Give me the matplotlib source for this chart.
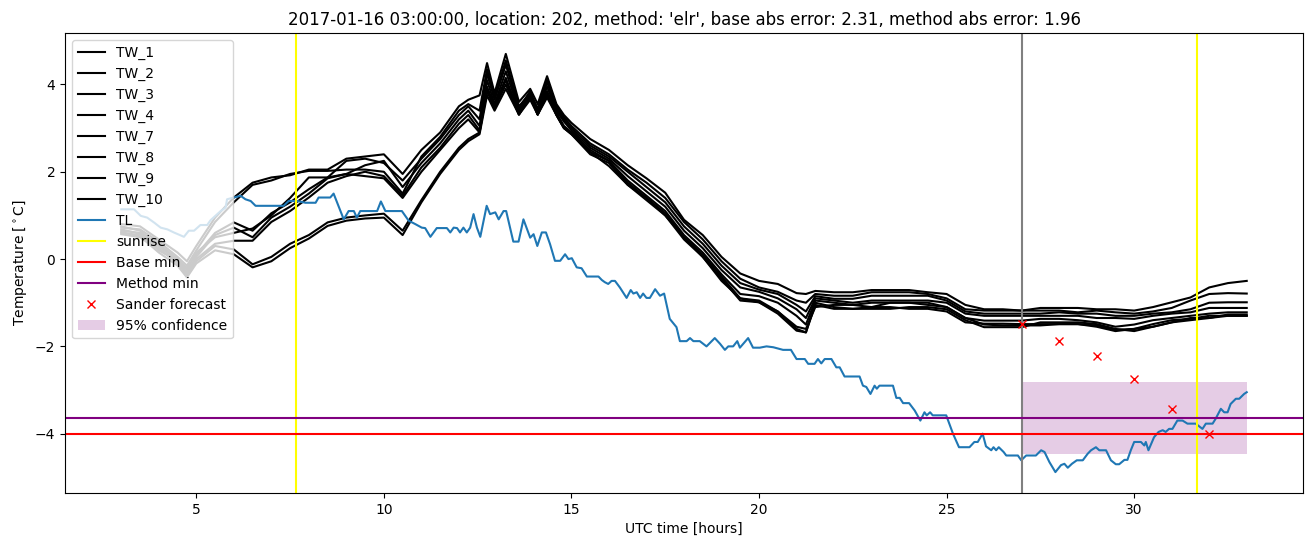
import matplotlib
matplotlib.use("Agg")
import matplotlib.pyplot as plt
import numpy as np

title = "2017-01-16 03:00:00, location: 202, method: 'elr', base abs error: 2.31, method abs error: 1.96"

tw_names = ["TW_1", "TW_2", "TW_3", "TW_4", "TW_7", "TW_8", "TW_9", "TW_10"]

tw_hours = [3.0, 3.5, 4.0, 4.5, 4.75, 5.0, 5.5, 6.0, 6.5, 7.0, 7.5, 8.0, 8.5, 9.0, 9.5, 10.0, 10.5,
            11.0, 11.5, 12.0, 12.25, 12.55, 12.75, 12.95, 13.25, 13.6, 13.9, 14.1, 14.35, 14.6,
            14.8, 15.0, 15.5, 16.0, 16.5, 17.0, 17.5, 18.0, 18.5, 19.0, 19.5, 20.0, 20.5, 21.0,
            21.25, 21.5, 22.0, 22.5, 23.0, 23.5, 24.0, 24.5, 25.0, 25.5, 26.0, 26.5, 27.0, 27.5,
            28.0, 28.5, 29.0, 29.5, 30.0, 30.5, 31.0, 31.5, 32.0, 32.5, 33.0]

tw_1 = [0.80, 0.75, 0.45, 0.15, -0.05, 0.30, 0.95, 1.41, 1.75, 1.87, 1.92, 2.05, 2.05, 2.30, 2.35,
        2.40, 1.95, 2.50, 2.90, 3.50, 3.65, 3.75, 4.49, 3.80, 4.70, 3.60, 3.90, 3.55, 4.19, 3.55,
        3.30, 3.12, 2.75, 2.50, 2.15, 1.85, 1.52, 0.90, 0.55, 0.05, -0.33, -0.50, -0.57, -0.78,
        -0.80, -0.73, -0.76, -0.76, -0.71, -0.71, -0.71, -0.76, -0.80, -1.05, -1.15, -1.15, -1.18,
        -1.12, -1.12, -1.12, -1.15, -1.15, -1.18, -1.10, -0.99, -0.88, -0.65, -0.55, -0.50]
tw_2 = [0.72, 0.68, 0.40, 0.05, -0.15, 0.20, 0.85, 1.30, 1.70, 1.80, 1.95, 2.02, 2.02, 2.05, 2.05,
        2.00, 1.50, 2.35, 2.80, 3.40, 3.55, 3.40, 4.35, 3.70, 4.55, 3.50, 3.80, 3.45, 4.10, 3.50,
        3.25, 3.05, 2.65, 2.40, 2.05, 1.75, 1.40, 0.85, 0.45, -0.05, -0.45, -0.65, -0.75, -0.95,
        -1.00, -0.80, -0.84, -0.84, -0.76, -0.76, -0.76, -0.80, -0.90, -1.15, -1.18, -1.18, -1.18,
        -1.18, -1.18, -1.22, -1.18, -1.22, -1.25, -1.20, -1.12, -0.95, -0.80, -0.78, -0.79]
tw_3 = [0.65, 0.60, 0.35, 0.00, -0.20, 0.10, 0.60, 0.84, 0.65, 1.05, 1.30, 1.60, 1.87, 2.25, 2.30,
        2.20, 1.80, 2.30, 2.75, 3.30, 3.50, 3.20, 4.25, 3.65, 4.45, 3.45, 3.85, 3.40, 4.05, 3.45,
        3.20, 3.00, 2.60, 2.35, 2.00, 1.65, 1.30, 0.75, 0.35, -0.15, -0.55, -0.70, -0.80, -1.05,
        -1.20, -0.85, -0.91, -0.91, -0.84, -0.84, -0.84, -0.84, -0.95, -1.20, -1.25, -1.25, -1.25,
        -1.25, -1.22, -1.25, -1.25, -1.30, -1.30, -1.25, -1.22, -1.15, -1.00, -0.99, -0.99]
tw_4 = [0.60, 0.55, 0.30, -0.05, -0.30, 0.05, 0.55, 0.72, 0.50, 0.95, 1.20, 1.50, 1.85, 1.95, 2.15,
        2.25, 1.65, 2.20, 2.65, 3.20, 3.40, 3.05, 4.10, 3.55, 4.30, 3.40, 3.80, 3.35, 3.95, 3.40,
        3.15, 2.95, 2.55, 2.30, 1.90, 1.55, 1.20, 0.65, 0.25, -0.25, -0.65, -0.75, -0.90, -1.15,
        -1.35, -0.90, -0.95, -1.00, -0.95, -0.95, -0.95, -0.95, -1.00, -1.25, -1.30, -1.30, -1.30,
        -1.30, -1.30, -1.30, -1.35, -1.35, -1.37, -1.30, -1.25, -1.22, -1.12, -1.12, -1.12]
tw_7 = [0.57, 0.50, 0.25, -0.10, -0.35, 0.00, 0.35, 0.42, 0.42, 0.85, 1.10, 1.41, 1.75, 1.90, 2.00,
        1.90, 1.45, 2.10, 2.55, 3.10, 3.30, 2.95, 3.95, 3.50, 4.15, 3.35, 3.75, 3.31, 3.85, 3.35,
        3.05, 2.90, 2.45, 2.25, 1.80, 1.45, 1.10, 0.55, 0.15, -0.35, -0.80, -0.85, -1.00, -1.30,
        -1.50, -0.95, -1.00, -1.05, -1.00, -1.00, -1.00, -1.05, -1.10, -1.35, -1.41, -1.41, -1.41,
        -1.37, -1.37, -1.40, -1.45, -1.55, -1.50, -1.40, -1.35, -1.30, -1.25, -1.22, -1.22]
tw_8 = [0.75, 0.65, 0.30, 0.00, -0.25, 0.15, 0.50, 0.60, 0.70, 1.00, 1.40, 1.87, 1.87, 1.95, 1.90,
        1.85, 1.40, 2.00, 2.50, 3.00, 3.20, 2.90, 3.90, 3.47, 4.10, 3.31, 3.77, 3.31, 3.80, 3.30,
        3.00, 2.86, 2.40, 2.20, 1.70, 1.40, 1.05, 0.50, 0.10, -0.40, -0.90, -0.95, -1.20, -1.60,
        -1.68, -1.00, -1.10, -1.14, -1.10, -1.10, -1.14, -1.14, -1.20, -1.45, -1.48, -1.48, -1.49,
        -1.49, -1.49, -1.49, -1.55, -1.65, -1.60, -1.49, -1.40, -1.37, -1.30, -1.30, -1.30]
tw_9 = [0.68, 0.58, 0.20, -0.05, -0.40, -0.05, 0.30, 0.22, -0.12, 0.05, 0.35, 0.55, 0.84, 0.95,
        1.00, 1.04, 0.65, 1.35, 2.00, 2.55, 2.75, 2.90, 3.85, 3.45, 4.00, 3.31, 3.70, 3.31, 3.75,
        3.30, 3.00, 2.90, 2.50, 2.25, 1.75, 1.40, 1.00, 0.50, 0.05, -0.45, -0.95, -0.99, -1.25,
        -1.64, -1.68, -1.05, -1.14, -1.14, -1.14, -1.14, -1.10, -1.10, -1.15, -1.40, -1.56, -1.56,
        -1.56, -1.45, -1.45, -1.45, -1.49, -1.60, -1.65, -1.55, -1.45, -1.35, -1.35, -1.30, -1.30]
tw_10 = [0.62, 0.52, 0.15, -0.15, -0.42, -0.10, 0.20, 0.11, -0.19, -0.05, 0.25, 0.47, 0.76, 0.88,
         0.93, 0.95, 0.55, 1.30, 1.95, 2.50, 2.70, 2.86, 3.75, 3.40, 3.90, 3.31, 3.65, 3.31, 3.70,
         3.30, 3.00, 2.86, 2.45, 2.13, 1.70, 1.35, 1.00, 0.45, 0.05, -0.50, -0.90, -0.99, -1.20,
         -1.55, -1.60, -1.10, -1.05, -1.05, -1.10, -1.00, -1.00, -1.00, -1.10, -1.35, -1.50, -1.52,
         -1.52, -1.52, -1.49, -1.49, -1.52, -1.62, -1.60, -1.55, -1.45, -1.40, -1.35, -1.27, -1.27]

tl_hours = [3.0, 3.34, 3.52, 3.69, 3.87, 4.05, 4.23, 4.40, 4.67, 4.80, 4.94, 5.11, 5.29, 5.38, 5.56,
            5.65, 5.78, 5.82, 6.00, 6.18, 6.31, 6.45, 6.58, 6.93, 7.33, 7.46, 7.69, 7.91, 8.18, 8.26,
            8.57, 8.66, 8.93, 9.06, 9.20, 9.28, 9.37, 9.82, 9.92, 10.04, 10.48, 10.66, 10.84, 11.01,
            11.10, 11.24, 11.41, 11.68, 11.77, 11.86, 11.95, 12.03, 12.12, 12.21, 12.30, 12.39,
            12.48, 12.57, 12.74, 12.83, 12.97, 13.06, 13.19, 13.26, 13.45, 13.59, 13.72, 13.90,
            13.99, 14.09, 14.21, 14.32, 14.43, 14.56, 14.70, 14.83, 14.92, 15.01, 15.14, 15.27,
            15.41, 15.72, 15.81, 15.89, 15.98, 16.07, 16.16, 16.29, 16.47, 16.58, 16.65, 16.74,
            16.83, 16.91, 17.00, 17.09, 17.23, 17.36, 17.47, 17.62, 17.80, 17.89, 18.07, 18.16,
            18.25, 18.42, 18.60, 18.82, 18.96, 19.09, 19.18, 19.31, 19.42, 19.49, 19.71, 19.84,
            20.02, 20.20, 20.38, 20.64, 20.85, 21.00, 21.09, 21.22, 21.31, 21.48, 21.57, 21.66,
            21.75, 21.93, 22.06, 22.15, 22.28, 22.68, 22.77, 22.86, 22.97, 23.08, 23.14, 23.21,
            23.57, 23.66, 23.75, 23.84, 24.00, 24.15, 24.30, 24.41, 24.47, 24.56, 24.63, 24.99,
            25.17, 25.33, 25.61, 25.74, 25.83, 25.96, 26.05, 26.19, 26.25, 26.32, 26.39, 26.52,
            26.59, 26.90, 26.99, 27.12, 27.38, 27.52, 27.61, 27.74, 27.90, 28.05, 28.14, 28.23,
            28.34, 28.47, 28.63, 28.76, 28.85, 28.98, 29.07, 29.25, 29.38, 29.51, 29.60, 29.74,
            29.82, 29.91, 30.00, 30.18, 30.27, 30.31, 30.38, 30.53, 30.65, 30.76, 30.84, 30.93,
            31.02, 31.15, 31.29, 31.42, 31.64, 31.82, 31.91, 32.09, 32.17, 32.31, 32.40, 32.49,
            32.57, 32.71, 32.80, 32.93, 33.00]
tl_values = [1.14, 1.14, 0.99, 0.95, 0.84, 0.72, 0.68, 0.61, 0.51, 0.65, 0.65, 0.78, 0.78, 0.89, 1.03,
             1.10, 1.18, 1.37, 1.41, 1.45, 1.37, 1.33, 1.22, 1.22, 1.22, 1.33, 1.33, 1.29, 1.29, 1.41,
             1.41, 1.50, 0.91, 1.10, 1.10, 0.95, 1.10, 1.10, 1.32, 1.10, 1.10, 0.88, 0.80, 0.72,
             0.71, 0.51, 0.71, 0.71, 0.61, 0.72, 0.71, 0.61, 0.72, 0.61, 0.72, 1.03,
             0.72, 0.51, 1.22, 1.03, 1.07, 0.91, 1.10, 1.10, 0.40, 0.40, 0.91, 0.49,
             0.57, 0.30, 0.61, 0.61, 0.34, -0.04, -0.04, 0.11, 0.00, 0.02, -0.19, -0.21,
             -0.40, -0.40, -0.48, -0.53, -0.57, -0.50, -0.50, -0.65, -0.89, -0.71, -0.79, -0.76,
             -0.89, -0.79, -0.89, -0.89, -0.69, -0.84, -0.79, -1.37, -1.56, -1.88, -1.88, -1.81,
             -1.88, -1.88, -2.00, -1.81, -1.94, -2.08, -2.00, -2.00, -1.88, -2.03, -1.81, -2.03,
             -2.03, -2.00, -2.02, -2.08, -2.08, -2.29, -2.29, -2.29, -2.40, -2.40, -2.29, -2.39,
             -2.29, -2.29, -2.48, -2.48, -2.69, -2.69, -2.90, -2.93, -3.09, -2.90, -2.97, -2.90,
             -2.90, -3.18, -3.18, -3.30, -3.30, -3.47, -3.70, -3.51, -3.58, -3.51, -3.58, -3.58,
             -4.00, -4.31, -4.31, -4.19, -4.19, -4.00, -4.29, -4.38, -4.31, -4.38, -4.31, -4.42,
             -4.50, -4.50, -4.61, -4.50, -4.50, -4.38, -4.42, -4.65, -4.88, -4.72, -4.69, -4.78,
             -4.69, -4.61, -4.61, -4.46, -4.38, -4.31, -4.38, -4.38, -4.61, -4.70, -4.70, -4.60,
             -4.60, -4.38, -4.19, -4.19, -4.27, -4.19, -4.38, -4.08, -3.96, -3.92, -3.96, -3.89,
             -3.89, -3.70, -3.70, -3.77, -3.77, -3.89, -3.77, -3.77, -3.66, -3.43, -3.51, -3.51,
             -3.32, -3.20, -3.20, -3.09, -3.05]

sunrise_hours = [7.67, 31.68]
forecast_start = 27.0
base_min = -4.0
method_min = -3.64
sander_hours = [27, 28, 29, 30, 31, 32]
sander_values = [-1.49, -1.88, -2.22, -2.75, -3.44, -4.01]
conf_hours = [27.0, 33.0]
conf_low = -4.46
conf_high = -2.81

fig = plt.figure(figsize=(13.13, 5.47), dpi=100)
ax = fig.add_axes([65 / 1313, 1 - 493 / 547, (1303 - 65) / 1313, (493 - 33) / 547])

tw_series = [tw_1, tw_2, tw_3, tw_4, tw_7, tw_8, tw_9, tw_10]
for name, vals in zip(tw_names, tw_series):
    ax.plot(tw_hours, vals, color="black", label=name)
ax.plot(tl_hours, tl_values, color="C0", label="TL")
ax.axvline(sunrise_hours[0], color="yellow", label="sunrise")
ax.axvline(sunrise_hours[1], color="yellow")
ax.axvline(forecast_start, color="grey")
ax.axhline(base_min, color="red", label="Base min")
ax.axhline(method_min, color="purple", label="Method min")
ax.plot(sander_hours, sander_values, "x", color="red", label="Sander forecast")
ax.fill_between(conf_hours, [conf_low] * 2, [conf_high] * 2, color="purple", alpha=0.2,
                linewidth=0, label="95% confidence")

ax.set_title(title)
ax.set_xlabel("UTC time [hours]")
ax.set_ylabel(r"Temperature [$^\circ$C]")
ax.legend(loc="upper left")

fig.savefig("out.png", dpi=100)
